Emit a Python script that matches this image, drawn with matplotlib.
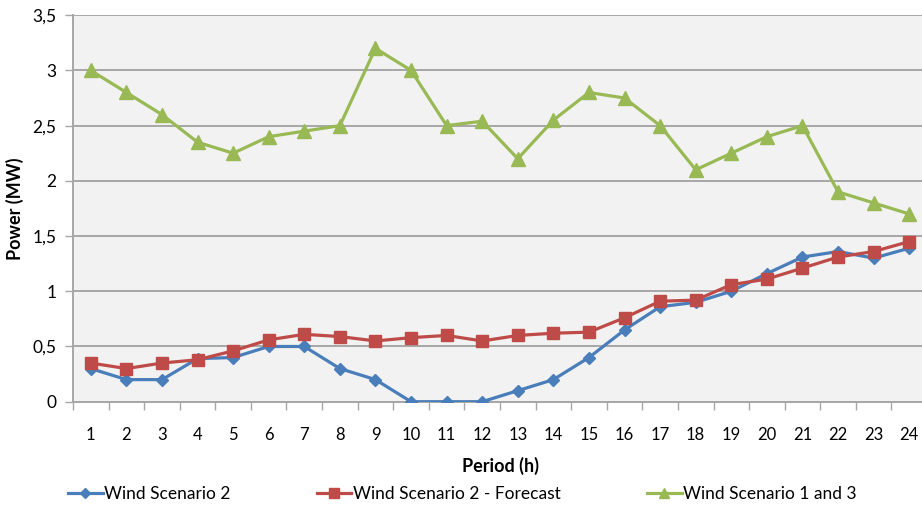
import matplotlib.pyplot as plt
import numpy as np
from matplotlib.ticker import FuncFormatter

plt.rcParams['font.family'] = ['Lato', 'DejaVu Sans']

periods = list(range(1, 25))

scenario_2 = [0.3, 0.2, 0.2, 0.39, 0.4, 0.5, 0.5, 0.3, 0.2, 0.0, 0.0, 0.0,
              0.1, 0.2, 0.4, 0.65, 0.86, 0.9, 1.0, 1.16, 1.31, 1.36, 1.3, 1.39]
scenario_2_forecast = [0.35, 0.3, 0.35, 0.38, 0.46, 0.56, 0.61, 0.59, 0.55, 0.58,
                       0.6, 0.55, 0.6, 0.62, 0.63, 0.76, 0.91, 0.92, 1.06, 1.11,
                       1.21, 1.31, 1.36, 1.45]
scenario_1_3 = [3.0, 2.8, 2.6, 2.35, 2.25, 2.4, 2.45, 2.5, 3.2, 3.0, 2.5, 2.54,
                2.2, 2.55, 2.8, 2.75, 2.5, 2.1, 2.25, 2.4, 2.5, 1.9, 1.8, 1.7]

y_ticks = np.arange(0, 3.51, 0.5)

W, H = 922, 509
fig = plt.figure(figsize=(W / 100, H / 100), dpi=100)
# plot area runs off the right edge, like the original export
ax = fig.add_axes([73 / W, 1 - 401.7 / H, 854 / W, 386.5 / H])
ax.set_facecolor('#f2f2f2')

ax.plot(periods, scenario_2, color='#4a7ebb', lw=2.3, marker='D', ms=6.5,
        label='Wind Scenario 2', zorder=3)
ax.plot(periods, scenario_2_forecast, color='#be4b48', lw=2.3, marker='s', ms=9,
        label='Wind Scenario 2 - Forecast', zorder=3)
ax.plot(periods, scenario_1_3, color='#98b954', lw=2.3, marker='^', ms=9.5,
        label='Wind Scenario 1 and 3', zorder=3)

ax.set_xlim(0.5, 24.5)
ax.set_ylim(0, 3.5)
ax.set_yticks(y_ticks)
ax.yaxis.set_major_formatter(FuncFormatter(lambda v, p: f'{v:g}'.replace('.', ',')))
ax.set_xticks(periods)
ax.set_xticks(np.arange(0.5, 25, 1), minor=True)
ax.tick_params(axis='x', which='major', length=0, pad=18, labelsize=12)
ax.tick_params(axis='x', which='minor', length=6, width=1, color='#a6a6a6',
               direction='out')
ax.tick_params(axis='y', length=6, width=1, color='#a6a6a6', pad=6, labelsize=12.5)

ax.grid(axis='y', color='#a6a6a6', lw=1.4)
ax.set_axisbelow(True)
for s in ('top', 'right'):
    ax.spines[s].set_visible(False)
for s in ('left', 'bottom'):
    ax.spines[s].set_color('#a6a6a6')
    ax.spines[s].set_linewidth(1.4)

ax.set_ylabel('Power (MW)', fontsize=13, fontweight='bold', labelpad=6)
ax.set_xlabel('Period (h)', fontsize=13, fontweight='bold', labelpad=10)

fig.legend(loc='center left', bbox_to_anchor=(68 / W, 1 - 494 / H), ncol=3,
           frameon=False, fontsize=12.5, handlelength=2.0, columnspacing=4.95,
           handletextpad=0.1, markerscale=0.8, borderpad=0, borderaxespad=0)

fig.savefig('out.png', dpi=100)
